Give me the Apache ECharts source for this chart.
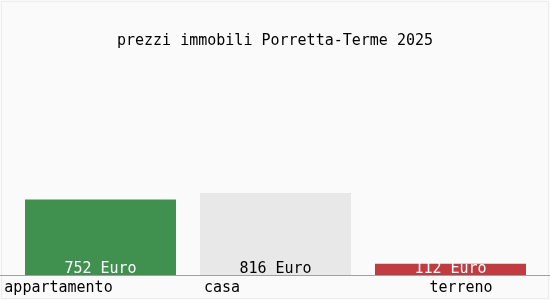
<!DOCTYPE html>
<html><head><meta charset="utf-8">
<script src="https://cdn.jsdelivr.net/npm/echarts@6/dist/echarts.min.js"></script>
<style>html,body{margin:0;padding:0;background:#fafafa}#c{width:550px;height:300px}</style>
</head><body><div id="c"></div>
<script>
var titleText = 'prezzi immobili Porretta-Terme 2025';
var categories = ['appartamento', 'casa', 'terreno'];
var values = [752, 816, 112];
var unit = ' Euro';
var barColors = ['#40914f', '#e8e8e8', '#c23b40'];
var labelColors = ['#ffffff', '#000000', '#ffffff'];

var FONT = '"DejaVu Sans Mono", "Liberation Mono", monospace';
var chart = echarts.init(document.getElementById('c'));
// label shift per category (lead/trail spacer widths)
var lead = [0, 0, 21];
var trail = [84, 107, 0];
var rich = {};
categories.forEach(function (c, i) {
  rich['l' + i] = { width: lead[i] };
  rich['r' + i] = { width: trail[i] };
});
rich['t'] = { fontFamily: FONT, fontSize: 15, color: '#000' };
chart.setOption({
  backgroundColor: '#fafafa',
  animation: false,
  title: {
    text: titleText, left: 'center', top: 29,
    textStyle: { fontFamily: FONT, fontSize: 15, fontWeight: 'normal', color: '#000' }
  },
  grid: { left: 13, right: 12, top: 74, bottom: 25, containLabel: false },
  xAxis: {
    type: 'category', data: categories,
    axisLine: { show: false }, axisTick: { show: false },
    axisLabel: {
      margin: 6, interval: 0,
      formatter: function (v, i) { return '{l' + i + '|}{t|' + v + '}{r' + i + '|}'; },
      rich: rich
    }
  },
  yAxis: { type: 'value', min: 0, max: 2000, show: false, splitLine: { show: false } },
  graphic: [
    { type: 'rect', shape: { x: 1.5, y: 1.5, width: 547, height: 297 }, style: { fill: 'none', stroke: '#ececec', lineWidth: 1 }, silent: true },
    { type: 'line', shape: { x1: 0, y1: 275.5, x2: 550, y2: 275.5 }, style: { stroke: '#a0a0a0', lineWidth: 1 }, z: 10, silent: true }
  ],
  series: [{
    type: 'bar', barWidth: 151,
    data: values.map(function (v, i) {
      return { value: v, itemStyle: { color: barColors[i] }, label: { color: labelColors[i] } };
    }),
    label: {
      show: true, position: 'insideBottom', distance: -2,
      fontFamily: FONT, fontSize: 15,
      formatter: function (p) { return p.value + unit; }
    }
  }]
});
</script></body></html>
